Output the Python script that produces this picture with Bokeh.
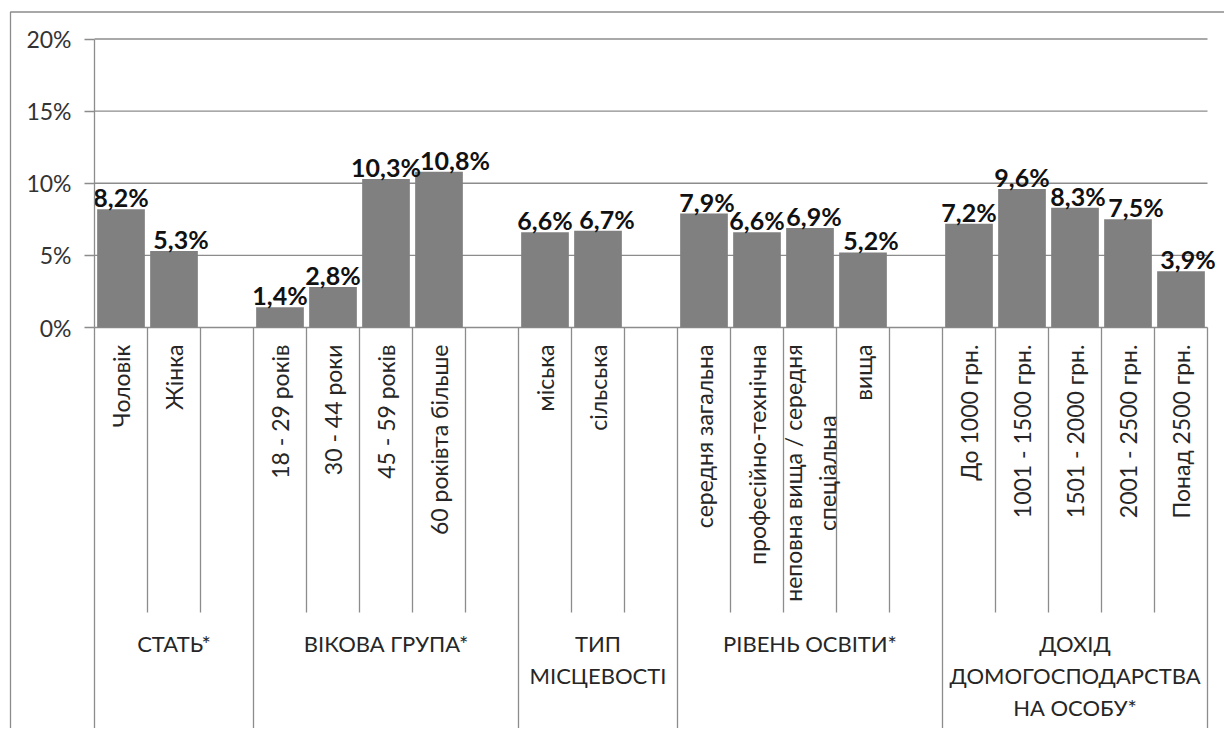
from bokeh.plotting import figure
from bokeh.models import ColumnDataSource, LinearAxis, FixedTicker, PrintfTickFormatter, Range1d
from bokeh.core.properties import value
from bokeh.embed import file_html
from bokeh.resources import INLINE

# ---------------- data ----------------
groups = ["СТАТЬ*", "ВІКОВА ГРУПА*", "ТИП\nМІСЦЕВОСТІ", "РІВЕНЬ ОСВІТИ*",
          "ДОХІД\nДОМОГОСПОДАРСТВА\nНА ОСОБУ*"]
cat_sex = ["Чоловік", "Жінка"]
val_sex = [8.2, 5.3]
cat_age = ["18 - 29 років", "30 - 44 роки", "45 - 59 років", "60 роківта більше"]
val_age = [1.4, 2.8, 10.3, 10.8]
cat_place = ["міська", "сільська"]
val_place = [6.6, 6.7]
cat_edu = ["середня загальна", "професійно-технічна",
           "неповна вища / середня\nспеціальна", "вища"]
val_edu = [7.9, 6.6, 6.9, 5.2]
cat_income = ["До 1000 грн.", "1001 - 1500 грн.", "1501 - 2000 грн.",
              "2001 - 2500 грн.", "Понад 2500 грн."]
val_income = [7.2, 9.6, 8.3, 7.5, 3.9]
y_ticks = [0, 5, 10, 15, 20]

# style: small horizontal nudges (px) of the value labels, as in the original
label_dx = [0, 7, 0, 0, 0, 16, 0, 9, 3, 0, 4, 8, 0, 0, 3, 8, 7]

cat_groups = [cat_sex, cat_age, cat_place, cat_edu, cat_income]
val_groups = [val_sex, val_age, val_place, val_edu, val_income]

# ---------------- layout in category slots ----------------
xs, tops, cats = [], [], []
spans = []
slot = 0
for gi, (cs, vs) in enumerate(zip(cat_groups, val_groups)):
    start = slot
    for c, v in zip(cs, vs):
        xs.append(slot + 0.5)
        tops.append(v)
        cats.append(c)
        slot += 1
    if gi < len(cat_groups) - 1:
        slot += 1  # empty slot between groups
    spans.append((start, slot))
n_slots = slot

labels = [("%.1f" % v).replace(".", ",") + "%" for v in tops]

W, H = 1224, 728
SLOT_PX = 53.0
PX_PER_UNIT = 14.425
x0_px = 94.0     # x=0 position in canvas px
y0_px = 327.0    # y=0 position in canvas px

x_start = -x0_px / SLOT_PX
x_end = (W - x0_px) / SLOT_PX
y_end = y0_px / PX_PER_UNIT
y_start = -(H - y0_px) / PX_PER_UNIT

p = figure(width=W, height=H, output_backend="svg", toolbar_location=None,
           x_range=Range1d(x_start, x_end), y_range=Range1d(y_start, y_end),
           x_axis_type=None, y_axis_type=None, min_border=0,
           background_fill_color="white", border_fill_color="white")
p.outline_line_color = None

GRID = "#8c8c8c"
FONT = "Lato"

# chart-area border (top and left)
bx = x_start + 10 / SLOT_PX
by = y_end - 11.5 / PX_PER_UNIT
p.line(x=[bx, bx, x_end + 1], y=[y_start - 1, by, by], line_color=GRID, line_width=1.3)

# horizontal gridlines
p.segment(x0=[0] * len(y_ticks), y0=y_ticks, x1=[n_slots] * len(y_ticks), y1=y_ticks,
          line_color=GRID, line_width=1.3)

# bars
src = ColumnDataSource(dict(x=xs, top=tops, label=labels, cat=cats, dx=label_dx))
p.vbar(x="x", top="top", bottom=0, width=0.9, source=src,
       fill_color="#808080", line_color=None)

# value labels
p.text(x="x", y="top", text="label", source=src, x_offset="dx", y_offset=3,
       text_align="center", text_baseline="bottom",
       text_font=value(FONT), text_font_style="bold", text_font_size="25px",
       text_color="#111111")

# category separators
group_bounds = set(s for s, e in spans) | {n_slots}
bounds = list(range(n_slots + 1))
short_b = [b for b in bounds if b not in group_bounds]
long_b = sorted(group_bounds)
p.segment(x0=short_b, y0=[0] * len(short_b), x1=short_b,
          y1=[-285 / PX_PER_UNIT] * len(short_b), line_color=GRID, line_width=1.3)
p.segment(x0=long_b, y0=[0] * len(long_b), x1=long_b,
          y1=[y_start - 1] * len(long_b), line_color=GRID, line_width=1.3)

# category labels (rotated)
p.text(x="x", y=-17 / PX_PER_UNIT, text="cat", source=src, angle=1.5707963,
       anchor="right", text_align="center", text_baseline="middle",
       text_line_height=1.2,
       text_font=value(FONT), text_font_size="23px", text_color="#262626")

# group labels
gx = [(s + e) / 2 for s, e in spans]
p.text(x=gx, y=[-(629.5 - 327) / PX_PER_UNIT] * len(gx), text=groups,
       text_align="center", text_baseline="top", text_line_height=1.19,
       text_font=value(FONT), text_font_size="22px", text_color="#262626")

# y axis
yax = LinearAxis(fixed_location=0, ticker=FixedTicker(ticks=y_ticks),
                 formatter=PrintfTickFormatter(format="%d%%"), bounds=(0, 20))
yax.axis_line_color = GRID
yax.axis_line_width = 1.3
yax.major_tick_line_color = GRID
yax.major_tick_line_width = 1.3
yax.major_tick_out = 10
yax.major_tick_in = 0
yax.minor_tick_line_color = None
yax.major_label_standoff = 13
yax.major_label_text_font = FONT
yax.major_label_text_font_size = "23px"
yax.major_label_text_color = "#333333"
p.add_layout(yax, "left")

open("out.html", "w").write(file_html(p, INLINE))
